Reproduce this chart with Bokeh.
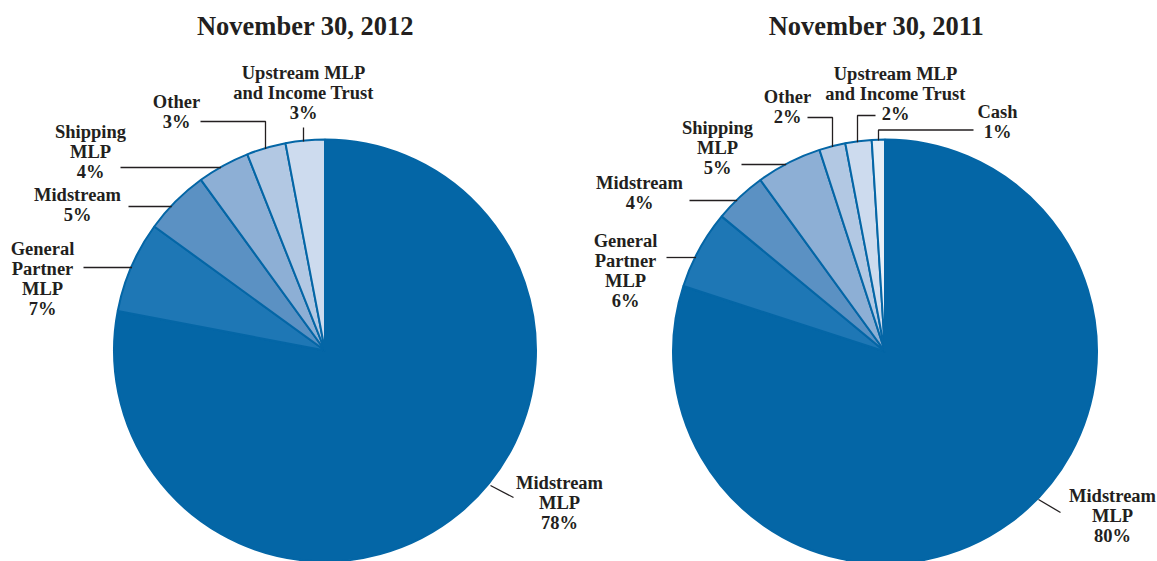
import math
from bokeh.plotting import figure
from bokeh.models import Range1d, ColumnDataSource
from bokeh.core.properties import value
from bokeh.embed import file_html
from bokeh.resources import INLINE

# ---------------- data ----------------
titles = ["November 30, 2012", "November 30, 2011"]

categories_2012 = ["Midstream MLP", "General Partner MLP", "Midstream", "Shipping MLP",
                   "Other", "Upstream MLP and Income Trust"]
values_2012 = [78, 7, 5, 4, 3, 3]
label_lines_2012 = [["Midstream", "MLP"], ["General", "Partner", "MLP"], ["Midstream"],
                    ["Shipping", "MLP"], ["Other"], ["Upstream MLP", "and Income Trust"]]

categories_2011 = ["Midstream MLP", "General Partner MLP", "Midstream", "Shipping MLP",
                   "Other", "Upstream MLP and Income Trust", "Cash"]
values_2011 = [80, 6, 4, 5, 2, 2, 1]
label_lines_2011 = [["Midstream", "MLP"], ["General", "Partner", "MLP"], ["Midstream"],
                    ["Shipping", "MLP"], ["Other"], ["Upstream MLP", "and Income Trust"], ["Cash"]]

colors = ["#0466A6", "#1E77B5", "#5B91C3", "#8DAFD5", "#B2C8E3", "#CDDBEE", "#E6EEF7"]

# ---------------- layout (pixel space of the picture) ----------------
W, H = 1157, 561
TOP = 561  # data y = TOP - pixel y

def Y(py):
    return TOP - py

pies = [
    dict(cx=324.5, cy=350, r=211, title_xy=(305, 25),
         label_anchor=[(559, 482), (42, 248), (77, 194), (90, 131), (176, 101), (303, 72)],
         leaders=[("d", [(490, 485), (513, 497)]), ("h", 267, 83), ("h", 206, 128),
                  ("h", 167, 120), ("v", 265, 121, 200), ("v", 303, 127, 303)]),
    dict(cx=884.5, cy=351, r=212, title_xy=(876, 25),
         label_anchor=[(1112, 495), (625, 240), (639, 182), (717, 127), (787, 96), (895, 73), (997, 111)],
         leaders=[("d", [(1038, 499), (1060, 512)]), ("h", 257, 666), ("h", 200, 689),
                  ("h", 164, 741), ("v", 832, 117, 807), ("v", 857, 115, 875), ("v", 878, 129.5, 973)]),
]
datasets = [(categories_2012, values_2012, label_lines_2012),
            (categories_2011, values_2011, label_lines_2011)]

p = figure(width=W, height=H, output_backend="svg", toolbar_location=None,
           x_range=Range1d(0, W), y_range=Range1d(0, H),
           min_border=0, min_border_left=0, min_border_right=0, min_border_top=0, min_border_bottom=0)
p.axis.visible = False
p.grid.visible = False
p.outline_line_color = None
p.background_fill_color = "white"
p.border_fill_color = "white"

FONT = value("Liberation Serif")
TXT = "#231F20"

for (cats, vals, lines), lay, title in zip(datasets, pies, titles):
    total = float(sum(vals))
    cum = 0.0
    starts, ends = [], []
    for v in vals:
        a0 = math.pi / 2 - 2 * math.pi * (cum + v) / total
        a1 = math.pi / 2 - 2 * math.pi * cum / total
        starts.append(a0)
        ends.append(a1)
        cum += v
    src = ColumnDataSource(dict(cat=cats, val=vals, start=starts, end=ends,
                                color=colors[:len(cats)]))
    p.wedge(x=lay["cx"], y=Y(lay["cy"]), radius=lay["r"], start_angle="start", end_angle="end",
            direction="anticlock", fill_color="color", line_color="#0466A6", line_width=2,
            source=src)

    # leaders
    cx, cy, r = lay["cx"], lay["cy"], lay["r"]
    for ld in lay["leaders"]:
        if ld[0] == "d":
            xs = [pt[0] for pt in ld[1]]
            ys = [Y(pt[1]) for pt in ld[1]]
        elif ld[0] == "h":
            _, yl, xe = ld
            xs0 = cx - math.sqrt(r * r - (yl - cy) ** 2)
            xs = [xs0 + 1, xe]
            ys = [Y(yl), Y(yl)]
        else:
            _, xl, ye, xe = ld
            ys0 = cy - math.sqrt(r * r - (xl - cx) ** 2)
            xs = [xl, xl, xe]
            ys = [Y(ys0 + 1), Y(ye), Y(ye)]
        p.line(xs, ys, line_color=TXT, line_width=1.3)

    # labels
    tx, ty, tt = [], [], []
    for i, (cat, v) in enumerate(zip(cats, vals)):
        ax, ay = lay["label_anchor"][i]
        all_lines = lines[i] + [f"{v}%"]
        for k, s in enumerate(all_lines):
            tx.append(ax)
            ty.append(Y(ay + 20 * k))
            tt.append(s)
    p.text(x=tx, y=ty, text=tt, text_font=FONT, text_font_style="bold", text_font_size="18.5px",
           text_color=TXT, text_align="center", text_baseline="middle")

    p.text(x=[lay["title_xy"][0]], y=[Y(lay["title_xy"][1])], text=[title], text_font=FONT,
           text_font_style="bold", text_font_size="26.5px", text_color=TXT,
           text_align="center", text_baseline="middle")

open("out.html", "w").write(file_html(p, INLINE))
